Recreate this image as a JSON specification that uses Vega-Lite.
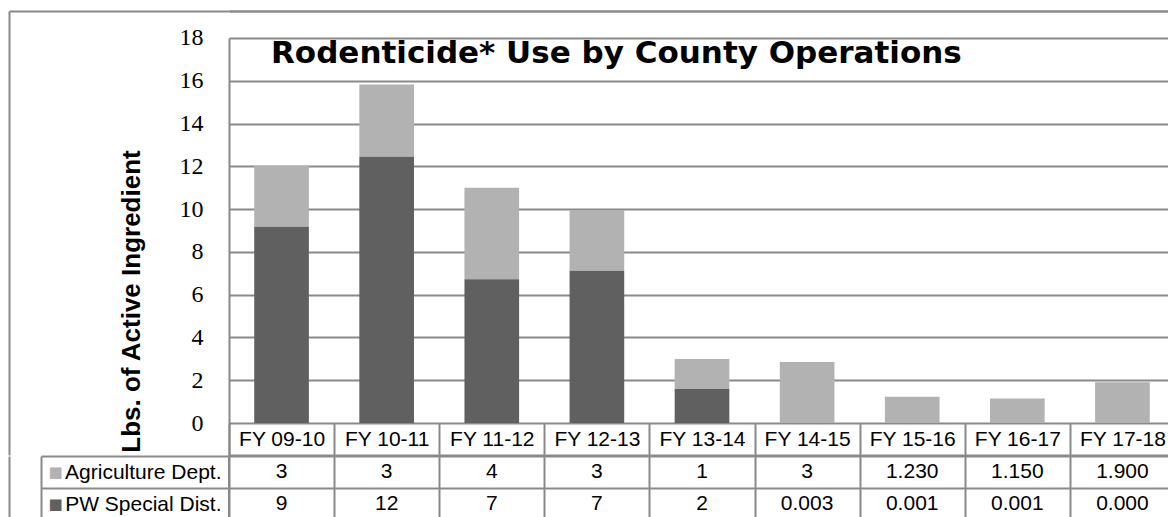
{
  "$schema": "https://vega.github.io/schema/vega-lite/v6.json",
  "padding": {"left": 8, "top": 10, "right": 0, "bottom": 0},
  "background": "white",
  "config": {
    "font": "Liberation Sans",
    "view": {"stroke": "#898989", "strokeWidth": 2},
    "axis": {"gridColor": "#898989", "gridWidth": 2, "domainColor": "#898989", "tickColor": "#898989"}
  },
  "datasets": {
    "d": [
      {"fy": "FY 09-10", "series": "Agriculture Dept.", "value": 2.85, "label": "3"},
      {"fy": "FY 09-10", "series": "PW Special Dist.", "value": 9.18, "label": "9"},
      {"fy": "FY 10-11", "series": "Agriculture Dept.", "value": 3.38, "label": "3"},
      {"fy": "FY 10-11", "series": "PW Special Dist.", "value": 12.45, "label": "12"},
      {"fy": "FY 11-12", "series": "Agriculture Dept.", "value": 4.28, "label": "4"},
      {"fy": "FY 11-12", "series": "PW Special Dist.", "value": 6.72, "label": "7"},
      {"fy": "FY 12-13", "series": "Agriculture Dept.", "value": 2.84, "label": "3"},
      {"fy": "FY 12-13", "series": "PW Special Dist.", "value": 7.12, "label": "7"},
      {"fy": "FY 13-14", "series": "Agriculture Dept.", "value": 1.4, "label": "1"},
      {"fy": "FY 13-14", "series": "PW Special Dist.", "value": 1.59, "label": "2"},
      {"fy": "FY 14-15", "series": "Agriculture Dept.", "value": 2.85, "label": "3"},
      {"fy": "FY 14-15", "series": "PW Special Dist.", "value": 0.003, "label": "0.003"},
      {"fy": "FY 15-16", "series": "Agriculture Dept.", "value": 1.23, "label": "1.230"},
      {"fy": "FY 15-16", "series": "PW Special Dist.", "value": 0.001, "label": "0.001"},
      {"fy": "FY 16-17", "series": "Agriculture Dept.", "value": 1.15, "label": "1.150"},
      {"fy": "FY 16-17", "series": "PW Special Dist.", "value": 0.001, "label": "0.001"},
      {"fy": "FY 17-18", "series": "Agriculture Dept.", "value": 1.9, "label": "1.900"},
      {"fy": "FY 17-18", "series": "PW Special Dist.", "value": 0.0, "label": "0.000"}
    ]
  },
  "spacing": -12,
  "vconcat": [
    {
      "width": 946,
      "height": 444,
      "view": {"stroke": null},
      "data": {"name": "d"},
      "title": {
        "text": "Rodenticide* Use by County Operations",
        "font": "DejaVu Sans",
        "fontSize": 31,
        "fontWeight": "bold",
        "color": "black",
        "anchor": "start",
        "frame": "group",
        "baseline": "alphabetic",
        "offset": 0,
        "dx": 42,
        "dy": 84
      },
      "encoding": {
        "color": {
          "field": "series",
          "type": "nominal",
          "scale": {"domain": ["Agriculture Dept.", "PW Special Dist."], "range": ["#b2b2b2", "#606060"]},
          "legend": null
        },
        "order": {"field": "series", "sort": "descending"}
      },
      "layer": [
        {
          "mark": {"type": "bar", "width": {"band": 0.52}},
          "encoding": {
            "x": {
              "field": "fy",
              "type": "nominal",
              "sort": null,
              "scale": {"type": "band", "paddingInner": 0, "paddingOuter": 0},
              "axis": {
                "orient": "bottom",
                "title": null,
                "labelAngle": 0,
                "labelFont": "Liberation Sans",
                "labelFontSize": 21,
                "labelColor": "black",
                "labelBaseline": "middle",
                "labelPadding": 16,
                "ticks": true,
                "tickBand": "extent",
                "tickSize": -32,
                "tickWidth": 2,
                "domain": true,
                "domainWidth": 2,
                "grid": false
              }
            },
            "y": {
              "field": "value",
              "type": "quantitative",
              "stack": "zero",
              "scale": {"domain": [-1.4961, 19.2623], "nice": false, "zero": false},
              "axis": {
                "values": [0, 2, 4, 6, 8, 10, 12, 14, 16, 18, 19.2623],
                "labelExpr": "datum.value > 18.5 ? '' : datum.label",
                "title": "Lbs. of Active Ingredient",
                "titleFont": "Liberation Sans",
                "titleFontSize": 26,
                "titleFontWeight": "bold",
                "titleColor": "black",
                "titleAngle": -90,
                "titleX": -90,
                "titleY": 290,
                "titleAlign": "center",
                "titleBaseline": "alphabetic",
                "labelFont": "Liberation Serif",
                "labelFontSize": 24,
                "labelColor": "black",
                "labelBaseline": "middle",
                "labelPadding": -194,
                "ticks": true,
                "tickSize": 220,
                "tickWidth": 2,
                "tickColor": {"condition": {"test": "datum.value > 18.5", "value": "#898989"}, "value": "rgba(0,0,0,0)"},
                "domain": false,
                "grid": true
              }
            }
          }
        },
        {
          "mark": {"type": "bar", "width": {"band": 0.52}, "opacity": 0},
          "encoding": {
            "x": {
              "field": "fy",
              "type": "nominal",
              "sort": null,
              "scale": {"type": "band", "paddingInner": 0, "paddingOuter": 0},
              "axis": {
                "orient": "bottom",
                "title": null,
                "labels": false,
                "ticks": true,
                "tickBand": "extent",
                "tickSize": -417,
                "tickWidth": 2,
                "tickColor": {"condition": {"test": "datum.extra", "value": "#898989"}, "value": "rgba(0,0,0,0)"},
                "domain": false,
                "grid": false
              }
            },
            "y": {
              "field": "value",
              "type": "quantitative",
              "stack": "zero",
              "scale": {"domain": [-1.4961, 19.2623], "nice": false, "zero": false},
              "axis": {
                "orient": "left",
                "offset": 220,
                "title": null,
                "labels": false,
                "ticks": false,
                "grid": false,
                "domain": true,
                "domainWidth": 2
              }
            }
          }
        },
        {
          "mark": {"type": "bar", "width": {"band": 0.52}, "opacity": 0},
          "encoding": {
            "x": {
              "field": "fy",
              "type": "nominal",
              "sort": null,
              "scale": {"type": "band", "paddingInner": 0, "paddingOuter": 0},
              "axis": {
                "orient": "top",
                "title": null,
                "labels": false,
                "ticks": false,
                "grid": false,
                "domain": true,
                "domainWidth": 2
              }
            },
            "y": {
              "field": "value",
              "type": "quantitative",
              "stack": "zero",
              "scale": {"domain": [-1.4961, 19.2623], "nice": false, "zero": false},
              "axis": null
            }
          }
        }
      ],
      "resolve": {"axis": {"y": "independent", "x": "independent"}}
    },
    {
      "width": 946,
      "height": 64,
      "data": {"name": "d"},
      "encoding": {
        "x": {
          "field": "fy",
          "type": "nominal",
          "sort": null,
          "scale": {"type": "band", "paddingInner": 0, "paddingOuter": 0},
          "axis": {"title": null, "labels": false, "ticks": false, "domain": false, "grid": true, "tickBand": "extent"}
        }
      },
      "layer": [
        {
          "mark": {"type": "text", "font": "Liberation Sans", "fontSize": 21, "color": "black"},
          "encoding": {
            "text": {"field": "label"},
            "y": {
              "field": "series",
              "type": "nominal",
              "scale": {"type": "band", "domain": ["Agriculture Dept.", "PW Special Dist."], "paddingInner": 0, "paddingOuter": 0},
              "axis": {
                "orient": "left",
                "title": null,
                "labelFont": "Liberation Sans",
                "labelFontSize": 21,
                "labelColor": "black",
                "labelPadding": -180,
                "labelAlign": "right",
                "labelBaseline": "middle",
                "ticks": true,
                "tickBand": "extent",
                "tickSize": 188,
                "tickWidth": 2,
                "domain": false,
                "grid": true
              }
            }
          }
        },
        {
          "mark": {"type": "text", "opacity": 0},
          "encoding": {
            "text": {"field": "label"},
            "y": {
              "field": "series",
              "type": "nominal",
              "scale": {"type": "band", "domain": ["Agriculture Dept.", "PW Special Dist."], "paddingInner": 0, "paddingOuter": 0},
              "axis": {
                "orient": "left",
                "offset": 188,
                "title": null,
                "domain": true,
                "domainWidth": 2,
                "ticks": false,
                "tickSize": 0,
                "grid": false,
                "labelExpr": "'■'",
                "labelAlign": "left",
                "labelBaseline": "middle",
                "labelPadding": -7,
                "labelFont": "DejaVu Sans",
                "labelFontSize": 15,
                "labelColor": {"condition": {"test": "datum.value == 'Agriculture Dept.'", "value": "#b2b2b2"}, "value": "#606060"}
              }
            }
          }
        },
        {
          "mark": {"type": "text", "opacity": 0},
          "encoding": {
            "text": {"field": "label"},
            "y": {
              "field": "series",
              "type": "nominal",
              "scale": {"type": "band", "domain": ["Agriculture Dept.", "PW Special Dist."], "paddingInner": 0, "paddingOuter": 0},
              "axis": {
                "orient": "left",
                "offset": 220,
                "title": null,
                "domain": true,
                "domainWidth": 2,
                "ticks": false,
                "labels": false,
                "grid": false
              }
            }
          }
        }
      ],
      "resolve": {"axis": {"y": "independent"}}
    }
  ]
}
